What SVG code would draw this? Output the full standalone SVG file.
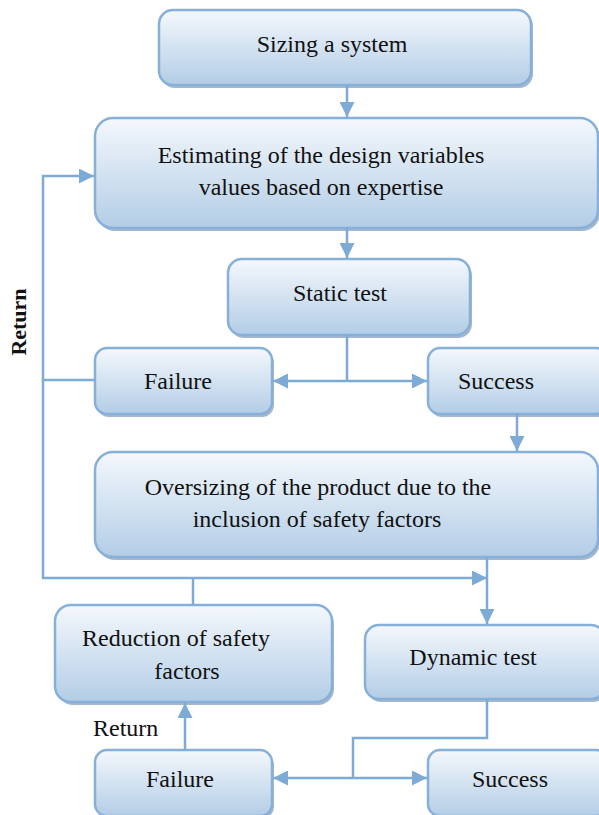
<svg xmlns="http://www.w3.org/2000/svg" width="599" height="815" viewBox="0 0 599 815">
<defs>
<linearGradient id="g" x1="0" y1="0" x2="0" y2="1">
<stop offset="0" stop-color="#f4f8fc"/>
<stop offset="1" stop-color="#b3cde6"/>
</linearGradient>
<marker id="ah" viewBox="0 0 10 10" refX="10" refY="5" markerWidth="6" markerHeight="6" orient="auto-start-reverse" markerUnits="strokeWidth">
<path d="M0,0 L10,5 L0,10 z" fill="#7eaad6"/>
</marker>
</defs>
<style>
.box{fill:url(#g);stroke:#86b0d9;stroke-width:2.5}
.sh{fill:#7f98b4;opacity:0.7}
.t{font-family:"Liberation Serif","Times New Roman",serif;font-size:24px;fill:#111;text-anchor:middle;dominant-baseline:central}
.c{fill:none;stroke:#7eaad6;stroke-width:2.5}
</style>
<rect width="599" height="815" fill="#fff"/>
<g id="n1"><rect class="sh" x="161" y="13" width="372" height="75" rx="14"/><rect class="box" x="159" y="10" width="372" height="75" rx="14"/><text class="t" x="332" y="44">Sizing a system</text></g>
<g id="n2"><rect class="sh" x="97" y="121" width="503" height="110" rx="18"/><rect class="box" x="95" y="118" width="503" height="110" rx="18"/><text class="t" x="321" y="155">Estimating of the design variables</text><text class="t" x="321" y="187">values based on expertise</text></g>
<g id="n3"><rect class="sh" x="230" y="262" width="242" height="76" rx="14"/><rect class="box" x="228" y="259" width="242" height="76" rx="14"/><text class="t" x="340" y="293">Static test</text></g>
<g id="n4"><rect class="sh" x="97" y="351" width="177" height="66" rx="12"/><rect class="box" x="95" y="348" width="177" height="66" rx="12"/><text class="t" x="178" y="381">Failure</text></g>
<g id="n5"><rect class="sh" x="430" y="351" width="180" height="66" rx="12"/><rect class="box" x="428" y="348" width="180" height="66" rx="12"/><text class="t" x="496" y="381">Success</text></g>
<g id="n6"><rect class="sh" x="97" y="455" width="503" height="105" rx="18"/><rect class="box" x="95" y="452" width="503" height="105" rx="18"/><text class="t" x="318" y="487">Oversizing of the product due to the</text><text class="t" x="317" y="519">inclusion of safety factors</text></g>
<g id="n7"><rect class="sh" x="57" y="608" width="277" height="97" rx="16"/><rect class="box" x="55" y="605" width="277" height="97" rx="16"/><text class="t" x="176" y="638">Reduction of safety</text><text class="t" x="187" y="671">factors</text></g>
<g id="n8"><rect class="sh" x="367" y="628" width="240" height="74" rx="14"/><rect class="box" x="365" y="625" width="240" height="74" rx="14"/><text class="t" x="473" y="657">Dynamic test</text></g>
<g id="n9"><rect class="sh" x="97" y="753" width="177" height="66" rx="12"/><rect class="box" x="95" y="750" width="177" height="66" rx="12"/><text class="t" x="180" y="779">Failure</text></g>
<g id="n10"><rect class="sh" x="430" y="753" width="180" height="66" rx="12"/><rect class="box" x="428" y="750" width="180" height="66" rx="12"/><text class="t" x="510" y="779">Success</text></g>
<g id="labels">
<text class="t" x="0" y="0" font-weight="bold" style="font-size:22px" transform="translate(18,322) rotate(-90)">Return</text>
<text class="t" x="93" y="728" style="text-anchor:start">Return</text>
</g>
<g id="connectors">
<line class="c" x1="347" y1="85" x2="347" y2="117" marker-end="url(#ah)"/>
<line class="c" x1="347" y1="228" x2="347" y2="258" marker-end="url(#ah)"/>
<polyline class="c" points="95,380 43,380 43,176 94,176" marker-end="url(#ah)"/>
<line class="c" x1="347" y1="335" x2="347" y2="381"/>
<line class="c" x1="273" y1="381" x2="427" y2="381" marker-start="url(#ah)" marker-end="url(#ah)"/>
<line class="c" x1="517" y1="414" x2="517" y2="451" marker-end="url(#ah)"/>
<polyline class="c" points="43,380 43,578 487,578" marker-end="url(#ah)"/>
<line class="c" x1="487" y1="557" x2="487" y2="624" marker-end="url(#ah)"/>
<line class="c" x1="193" y1="578" x2="193" y2="605"/>
<polyline class="c" points="487,699 487,738 353,738 353,778"/>
<line class="c" x1="273" y1="778" x2="427" y2="778" marker-start="url(#ah)" marker-end="url(#ah)"/>
<line class="c" x1="185" y1="750" x2="185" y2="703" marker-end="url(#ah)"/>
</g>
</svg>
